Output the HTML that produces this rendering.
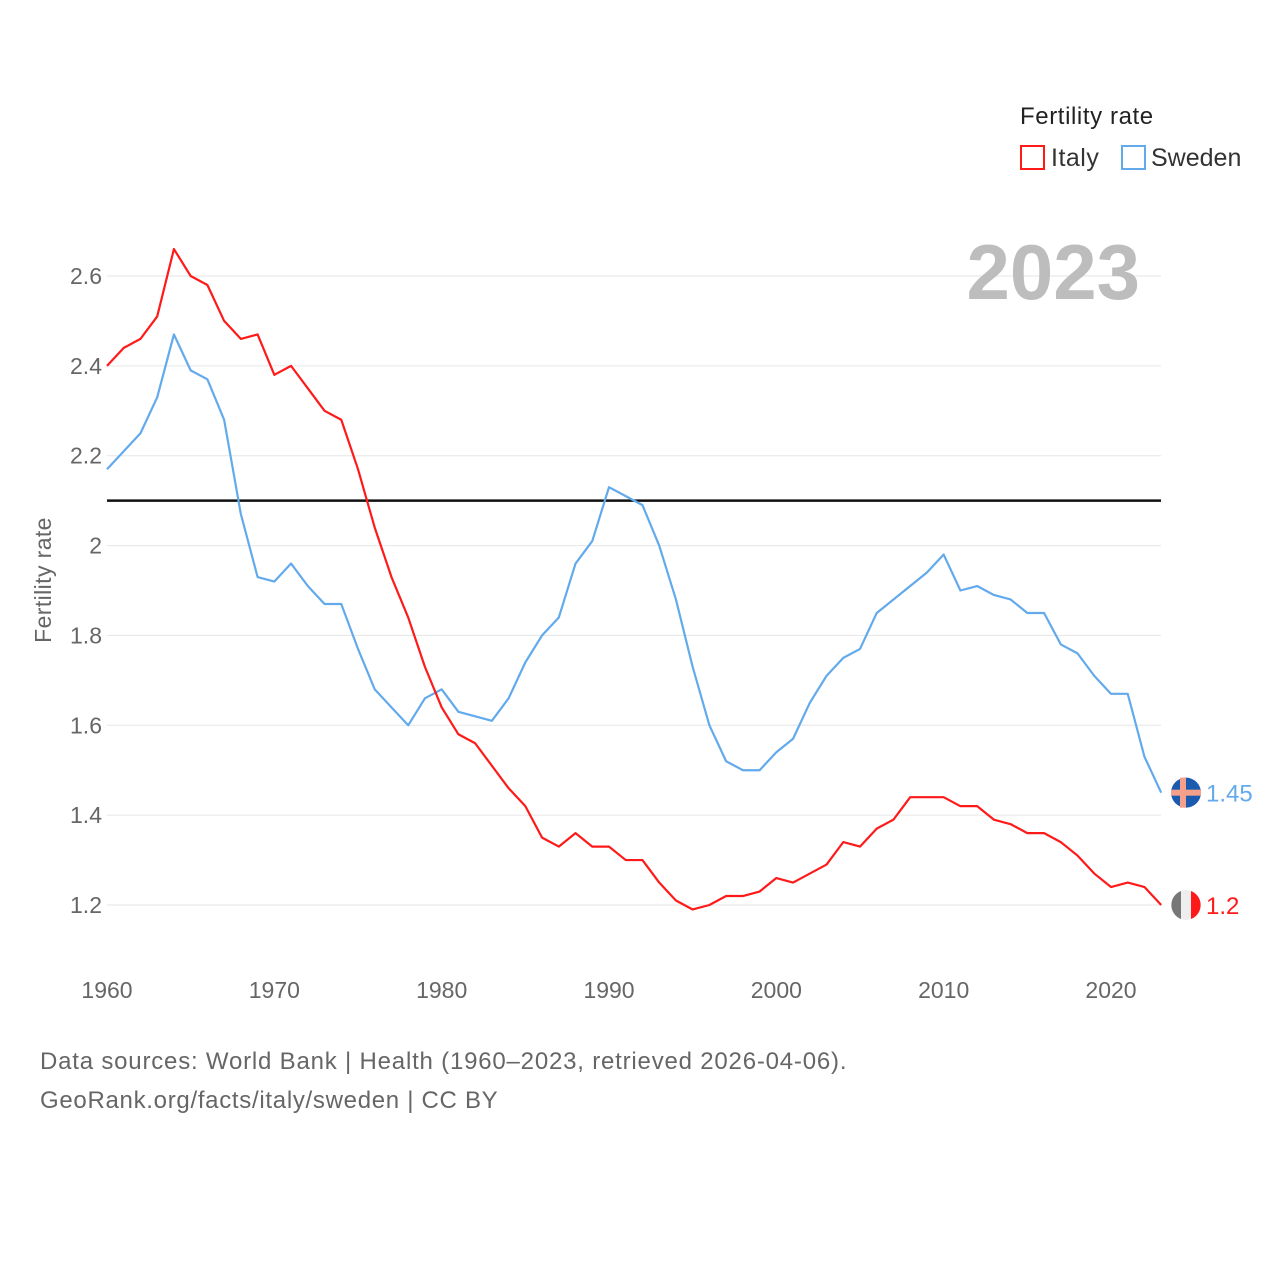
<!DOCTYPE html>
<html><head><meta charset="utf-8"><style>
body{margin:0;background:#fff;font-family:"Liberation Sans",sans-serif}
</style></head><body>
<svg id="chart" width="1280" height="1280" xmlns="http://www.w3.org/2000/svg" style="display:block">
<rect width="1280" height="1280" fill="#fff"/>
<g id="grid"></g>
<g id="yticks"></g>
<g id="xticks"></g>
<text transform="translate(51,580) rotate(-90)" text-anchor="middle" font-size="23" letter-spacing="0.4" fill="#666">Fertility rate</text>
<text x="1140" y="299" text-anchor="end" font-size="78" font-weight="bold" fill="#bdbdbd">2023</text>
<text x="1020" y="124" font-size="24" letter-spacing="0.6" fill="#222">Fertility rate</text>
<g><rect x="1021" y="146" width="23" height="23" fill="none" stroke="#ff1a1a" stroke-width="2"/><text x="1051" y="166" font-size="25" letter-spacing="0.5" fill="#333">Italy</text></g>
<g><rect x="1122" y="146" width="23" height="23" fill="none" stroke="#63aaec" stroke-width="2"/><text x="1151" y="166" font-size="25" fill="#333">Sweden</text></g>
<line id="refline" x1="107" x2="1161" stroke="#111" stroke-width="2.5"/>
<g id="series"></g>
<text x="40" y="1069" font-size="24" letter-spacing="0.8" fill="#666">Data sources: World Bank | Health (1960–2023, retrieved 2026-04-06).</text>
<text x="40" y="1108" font-size="24" letter-spacing="0.7" fill="#666">GeoRank.org/facts/italy/sweden | CC BY</text>
</svg>
<script>
const years=[];for(let y=1960;y<=2023;y++)years.push(y);
const italy=[2.40,2.44,2.46,2.51,2.66,2.60,2.58,2.50,2.46,2.47,2.38,2.40,2.35,2.30,2.28,2.17,2.04,1.93,1.84,1.73,1.64,1.58,1.56,1.51,1.46,1.42,1.35,1.33,1.36,1.33,1.33,1.30,1.30,1.25,1.21,1.19,1.20,1.22,1.22,1.23,1.26,1.25,1.27,1.29,1.34,1.33,1.37,1.39,1.44,1.44,1.44,1.42,1.42,1.39,1.38,1.36,1.36,1.34,1.31,1.27,1.24,1.25,1.24,1.20];
const sweden=[2.17,2.21,2.25,2.33,2.47,2.39,2.37,2.28,2.07,1.93,1.92,1.96,1.91,1.87,1.87,1.77,1.68,1.64,1.60,1.66,1.68,1.63,1.62,1.61,1.66,1.74,1.80,1.84,1.96,2.01,2.13,2.11,2.09,2.00,1.88,1.73,1.60,1.52,1.50,1.50,1.54,1.57,1.65,1.71,1.75,1.77,1.85,1.88,1.91,1.94,1.98,1.90,1.91,1.89,1.88,1.85,1.85,1.78,1.76,1.71,1.67,1.67,1.53,1.45];
const yTicks=[1.2,1.4,1.6,1.8,2,2.2,2.4,2.6];
const xTicks=[1960,1970,1980,1990,2000,2010,2020];
const refValue=2.1;
const X=y=>107+(y-1960)*(1004/60);
const Y=v=>905-(v-1.2)*(629/1.4);
const NS="http://www.w3.org/2000/svg";
function mk(t,a,p){const e=document.createElementNS(NS,t);for(const k in a)e.setAttribute(k,a[k]);p.appendChild(e);return e;}
const grid=document.getElementById('grid'),yt=document.getElementById('yticks'),xt=document.getElementById('xticks');
yTicks.forEach(v=>{
 const l=mk('line',{x1:107,x2:1161,y1:Y(v),y2:Y(v),stroke:'#e6e6e6','stroke-width':1},grid);
 
 
 const t=mk('text',{x:102,y:Y(v)+8,'text-anchor':'end','font-size':23,fill:'#666'},yt);
 t.textContent=String(v);
 
 
});
xTicks.forEach(v=>{
 const t=mk('text',{x:X(v),y:998,'text-anchor':'middle','font-size':23,fill:'#666'},xt);
 t.textContent=v;
 
 
});
const rl=document.getElementById('refline');rl.setAttribute('y1',Y(refValue));rl.setAttribute('y2',Y(refValue));
const sg=document.getElementById('series');
function line(vals,color,name){
 const p=mk('polyline',{points:vals.map((v,i)=>X(years[i])+','+Y(v)).join(' '),fill:'none',stroke:color,'stroke-width':2.2,'stroke-linejoin':'round'},sg);
 
 
}
line(sweden,'#63aaec','sweden-line');
line(italy,'#ff1a1a','italy-line');
const sv=sweden[sweden.length-1],iv=italy[italy.length-1];
const sf=mk('g',{},sg);


mk('circle',{cx:1186,cy:Y(sv),r:15,fill:'#1a5bb0'},sf);
mk('rect',{x:1171,y:Y(sv)-3,width:30,height:6,fill:'#f5a08a'},sf);
mk('rect',{x:1180,y:Y(sv)-15,width:6,height:30,fill:'#f5a08a'},sf);
const st=mk('text',{x:1206,y:Y(sv)+9,'font-size':24,fill:'#63aaec'},sg);st.textContent=sv;


const itf=mk('g',{},sg);


mk('circle',{cx:1186,cy:Y(iv),r:15,fill:'#eee'},itf);
mk('path',{d:`M1181,${Y(iv)-14} A15,15 0 0,0 1181,${Y(iv)+14} Z`,fill:'#777'},itf);
mk('path',{d:`M1191,${Y(iv)-14} A15,15 0 0,1 1191,${Y(iv)+14} Z`,fill:'#ff1a1a'},itf);
const it=mk('text',{x:1206,y:Y(iv)+9,'font-size':24,fill:'#ff1a1a'},sg);it.textContent=iv.toFixed(1);


</script>
</body></html>
